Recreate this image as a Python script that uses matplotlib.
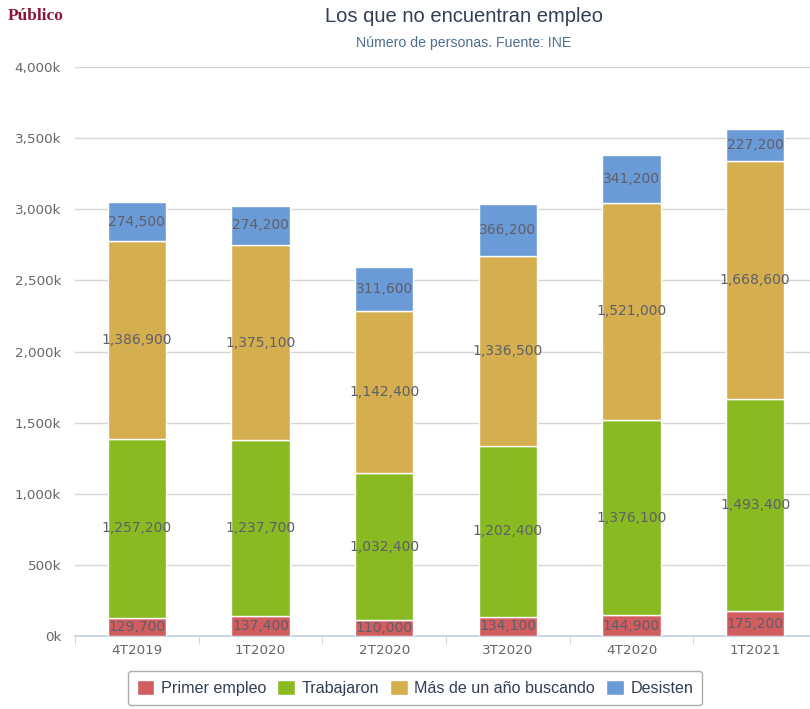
import matplotlib.pyplot as plt
from matplotlib import font_manager
import numpy as np

# data
trimestres = ['4T2019', '1T2020', '2T2020', '3T2020', '4T2020', '1T2021']
primer_empleo = [129700, 137400, 110000, 134100, 144900, 175200]
trabajaron = [1257200, 1237700, 1032400, 1202400, 1376100, 1493400]
mas_de_un_ano = [1386900, 1375100, 1142400, 1336500, 1521000, 1668600]
desisten = [274500, 274200, 311600, 366200, 341200, 227200]

series = [('Primer empleo', primer_empleo, '#d25d5f'),
          ('Trabajaron', trabajaron, '#8aba22'),
          ('Más de un año buscando', mas_de_un_ano, '#d5af4f'),
          ('Desisten', desisten, '#6b9bd6')]

names = {f.name for f in font_manager.fontManager.ttflist}
narrow = 'Liberation Sans Narrow' if 'Liberation Sans Narrow' in names else 'Liberation Sans'

fig = plt.figure(figsize=(8.1, 7.09), dpi=100)
ax = fig.add_axes([75/810, 1-636/709, 742/810, 569/709])

x = np.arange(len(trimestres))
bottom = np.zeros(len(trimestres))
for name, vals, col in series:
    vals = np.array(vals)
    ax.bar(x, vals, width=0.47, bottom=bottom, color=col, edgecolor='white',
           linewidth=1, label=name, zorder=3)
    for xi, b, v in zip(x, bottom, vals):
        ax.text(xi, b + v/2, f'{v:,}', ha='center', va='center', fontsize=10,
                color='#5f5f6a', zorder=4)
    bottom += vals

ax.set_xlim(-0.5, len(trimestres) - 0.5)
ax.set_ylim(0, 4000000)
ax.set_yticks(np.arange(0, 4000001, 500000))
ax.set_yticklabels([f'{int(v/1000):,}k' for v in ax.get_yticks()])
ax.yaxis.grid(True, color='#d6d6d6', linewidth=1, zorder=0)
ax.tick_params(axis='y', length=0, labelsize=9.7, labelcolor='#666666', pad=10)

ax.set_xticks(x)
ax.set_xticklabels(trimestres)
ax.set_xticks(np.arange(-0.5, len(trimestres)), minor=True)
ax.tick_params(axis='x', which='major', length=0, labelsize=9.7, labelcolor='#666666', pad=6)
ax.tick_params(axis='x', which='minor', length=6, color='#c0d0e0', direction='out')

for s in ['top', 'right', 'left']:
    ax.spines[s].set_visible(False)
ax.spines['bottom'].set_color('#c0d0e0')
ax.spines['bottom'].set_linewidth(1.2)

fig.text(464/810, 1-16/709, 'Los que no encuentran empleo', ha='center', va='center',
         fontsize=14.5, color='#333d55', family=narrow)
fig.text(464/810, 1-43/709, 'Número de personas. Fuente: INE', ha='center', va='center',
         fontsize=10.2, color='#4f6d8f', family=narrow)
fig.text(8/810, 1-16/709, 'Público', ha='left', va='center', fontsize=12.5,
         fontweight='bold', color='#8b1538', family='Liberation Serif')

leg = fig.legend(loc='center', bbox_to_anchor=(415/810, 1-688/709), ncol=4,
                 frameon=True, fancybox=True, edgecolor='#999999',
                 handlelength=1.1, handleheight=1.1, handletextpad=0.4,
                 columnspacing=0.7, borderpad=0.55, prop={'family': narrow, 'size': 11.6})
for t in leg.get_texts():
    t.set_color('#333d55')

fig.savefig('out.png', dpi=100)
